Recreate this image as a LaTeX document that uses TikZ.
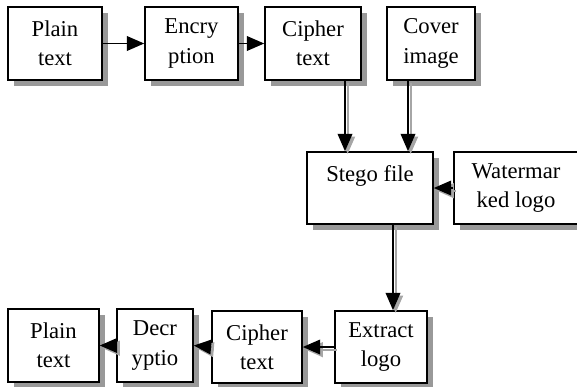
\documentclass[tikz,border=0pt]{standalone}
\usepackage{fontspec}
\setmainfont{Liberation Serif}
\usetikzlibrary{arrows.meta,shadows}
\tikzset{
  box/.style={draw=black, line width=1.2pt, fill=white, align=center,
    font=\fontsize{17}{22}\selectfont, inner sep=0pt,
    drop shadow={shadow xshift=4.5pt, shadow yshift=-4.5pt, fill=black!40, opacity=1}},
  tip/.style={-{Triangle[length=13pt,width=11pt]}},
  arr/.style={line width=1.1pt, tip},
  sarr/.style={line width=1.1pt, tip,
    preaction={draw=black!35, line width=1.5pt, tip, transform canvas={xshift=2pt,yshift=-2pt}}}
}
\begin{document}
\begin{tikzpicture}[x=0.75pt,y=-0.75pt]
\useasboundingbox (0,0) rectangle (577,386);
% top row
\node[box, minimum width=70.5pt, minimum height=54.75pt] (pt1) at (55,43.5) {Plain\\text};
\node[box, minimum width=69.75pt, minimum height=54.75pt] (enc) at (191.5,43.5) {Encry\\ption};
\node[box, minimum width=72pt, minimum height=54.75pt] (ct1) at (313,43.5) {Cipher\\text};
\node[box, minimum width=66pt, minimum height=54.75pt] (cov) at (431,43.5) {Cover\\image};
% middle
\node[box, minimum width=94.5pt, minimum height=54pt, text height=12pt, text depth=22.5pt] (stego) at (370,188) {Stego file};
\node[box, minimum width=93pt, minimum height=54pt] (wm) at (516,188) {Watermar\\ked logo};
% bottom row
\node[box, minimum width=68.25pt, minimum height=54.75pt] (pt2) at (53.5,345.5) {Plain\\text};
\node[box, minimum width=57pt, minimum height=54.75pt] (dec) at (155,345.5) {Decr\\yptio};
\node[box, minimum width=67.5pt, minimum height=54pt] (ct2) at (257,347) {Cipher\\text};
\node[box, minimum width=69pt, minimum height=54pt] (ext) at (381,347) {Extract\\logo};
% connectors
\draw[arr] (pt1.east) -- (enc.west);
\draw[arr] (enc.east) -- (ct1.west);
\draw[sarr] ([xshift=24pt]ct1.south) -- ([xshift=24pt]ct1.south |- stego.north);
\draw[sarr] ([xshift=-17.25pt]cov.south) -- ([xshift=-17.25pt]cov.south |- stego.north);
\draw[sarr] (wm.west) -- (stego.east);
\draw[sarr] ([xshift=17.25pt]stego.south) -- ([xshift=17.25pt]stego.south |- ext.north);
\draw[sarr] (ext.west) -- (ct2.east);
\draw[sarr] (ct2.west) -- (dec.east);
\draw[sarr] (dec.west) -- (pt2.east);
\end{tikzpicture}
\end{document}
